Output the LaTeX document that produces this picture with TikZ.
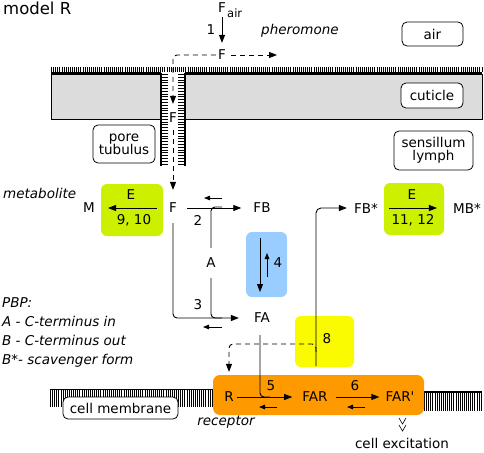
\documentclass[tikz,border=0pt]{standalone}
\usepackage{fontspec}
\setmainfont{DejaVu Sans}[Ligatures=TeXOff]
\usetikzlibrary{arrows.meta}
\definecolor{mygreen}{RGB}{204,240,0}
\definecolor{myblue}{RGB}{153,204,255}
\definecolor{myyellow}{RGB}{250,250,0}
\definecolor{myorange}{RGB}{255,153,0}
\definecolor{cutgray}{RGB}{220,220,220}
\begin{document}
\begin{tikzpicture}[x=1pt,y=-1pt,
  every node/.style={font=\fontsize{13.5}{15}\selectfont, inner sep=2pt},
  itx/.style={font=\fontsize{13.5}{15}\selectfont\itshape},
  ln/.style={line width=0.9pt},
  arr/.style={ln, -{Triangle[length=8pt,width=6pt]}},
  sarr/.style={line width=0.8pt, -{Triangle[length=6pt,width=4.5pt]}},
  dsh/.style={dash pattern=on 5pt off 4pt},
  tag/.style={draw, rounded corners=5pt, fill=white, line width=0.8pt, align=center, inner sep=0pt},
  fbox/.style={rounded corners=6pt},
  hatch/.style={dash pattern=on 0.8pt off 1.3pt}
]
\useasboundingbox (0,0) rectangle (484,452);

% ---- cuticle ----
\draw[fill=cutgray, line width=0.8pt] (51,74) rectangle (161,119);
\draw[fill=cutgray, line width=0.8pt] (185,74) rectangle (482,119);
\draw[line width=5pt, hatch] (51,69.5) -- (482,69.5);
\draw[line width=1.8pt] (51,73) -- (161,73);
\draw[line width=1.8pt] (185,73) -- (482,73);
% pore tubulus walls
\draw[line width=6.5pt, dash pattern=on 0.8pt off 2pt] (164.5,74) -- (164.5,166);
\draw[line width=6.5pt, dash pattern=on 0.8pt off 2pt] (181.5,74) -- (181.5,166);
\draw[line width=1.8pt] (161,73) -- (161,166);
\draw[line width=1.8pt] (185,73) -- (185,166);

% ---- cell membrane ----
\draw[line width=17pt, hatch] (50,398) -- (213,398);
\draw[line width=1.6pt] (50,389.5) -- (213,389.5);
\draw[line width=19pt, hatch] (424,401) -- (482,401);
\draw[line width=1.6pt] (424,392) -- (482,392);

% ---- coloured boxes ----
\fill[mygreen, fbox] (101,184) rectangle (163,236);
\fill[mygreen, fbox] (384,183) rectangle (444,235);
\fill[myblue, fbox] (246,232) rectangle (287,297);
\fill[myyellow, fbox] (295,316) rectangle (354,367);
\fill[myorange, rounded corners=7pt] (213,375) rectangle (424,415);

% ---- labels / tags ----
\node[anchor=base west, font=\fontsize{16.5}{18}\selectfont, inner sep=0pt] (title) at (3,15) {model R};
\node[tag, minimum width=61pt, minimum height=24pt] (air) at (432.5,34) {air};
\node[tag, minimum width=62pt, minimum height=25pt] (cuticle) at (432,95.5) {cuticle};
\node[tag, minimum width=79pt, minimum height=39pt] (lymph) at (433.5,150.5) {sensillum\\[-2pt]lymph};
\node[tag, minimum width=62pt, minimum height=38pt] (pore) at (124,144) {pore\\[-2pt]tubulus};
\node[tag, minimum width=115pt, minimum height=22pt] (membrane) at (120.5,408) {cell membrane};
\node[itx] (pheromone) at (300,31) {pheromone};
\node[itx, anchor=west, inner sep=0pt] (metabolite) at (3,193) {metabolite};
\node[itx, anchor=base west, inner sep=0pt] (pbp1) at (2,307) {PBP:};
\node[itx, anchor=base west, inner sep=0pt] (pbp2) at (2,326) {A - C-terminus in};
\node[itx, anchor=base west, inner sep=0pt] (pbp3) at (2,345) {B - C-terminus out};
\node[itx, anchor=base west, inner sep=0pt] (pbp4) at (2,364) {B*- scavenger form};
\node[itx] (receptor) at (226,422) {receptor};
\node (excit) at (402,443) {cell excitation};

% ---- species ----
\node (Fair) at (222,8) {F};
\node[anchor=west, inner sep=0pt, font=\fontsize{11.5}{13}\selectfont] (airsub) at (227,13) {air};
\node (F0) at (222,55) {F};
\node (Fp) at (173,118) {F};
\node (F1) at (173,208) {F};
\node (M) at (89,208) {M};
\node (FB) at (262,208) {FB};
\node (FA) at (262,318) {FA};
\node (A) at (211,263) {A};
\node (FBs) at (366,208) {FB*};
\node (MBs) at (467,208) {MB*};
\node (R) at (229,397) {R};
\node (FAR) at (315,397) {FAR};
\node (FARp) at (400,397) {FAR'};

% numbers
\node (n1) at (211,30) {1};
\node (n2) at (198,220) {2};
\node (n3) at (198,305) {3};
\node (n4) at (278,263) {4};
\node (n5) at (271,386) {5};
\node (n6) at (355,386) {6};
\node (n8) at (327,339) {8};
\node (E1) at (131,195) {E};
\node (k1) at (134,220) {9, 10};
\node (E2) at (412,195) {E};
\node (k2) at (413,220) {11, 12};

% ---- connectors ----
\draw[arr, shorten <=2pt, shorten >=5pt] (Fair) -- (F0);
\coordinate (c0) at (173,55);
\draw[ln, dsh, -{Triangle[length=8pt,width=6pt]}, rounded corners=4pt, shorten >=7pt] (F0.west) -- (c0) -- (Fp.north);
\coordinate (t0) at (277,55);
\draw[ln, dsh, -{Triangle[length=8pt,width=6pt]}, shorten <=3pt] (F0.east) -- (t0);
\draw[ln, dsh, -{Triangle[length=8pt,width=6pt]}, shorten <=5pt, shorten >=11pt] (Fp.south) -- (F1.north);

% 9,10
\draw[arr, shorten <=10pt, shorten >=11pt] (F1.west) -- (M.east);
% 2
\draw[arr, shorten <=8pt, shorten >=10pt] (F1.east) -- (FB.west);
\coordinate (a2) at (211,207); \coordinate (a2e) at (222,207);
\draw[ln, rounded corners=4pt, shorten <=8pt] (A.north) -- (a2) -- (a2e);
\coordinate (b2s) at (222,198); \coordinate (b2e) at (204,198);
\draw[sarr] (b2s) -- (b2e);
% 3
\draw[arr, rounded corners=4pt, shorten <=8pt, shorten >=13pt] (F1.south) |- (FA.west);
\coordinate (a3) at (211,318); \coordinate (a3e) at (222,318);
\draw[ln, rounded corners=4pt, shorten <=8pt] (A.south) -- (a3) -- (a3e);
\coordinate (b3s) at (222,327); \coordinate (b3e) at (203,327);
\draw[sarr] (b3s) -- (b3e);
% 4
\coordinate (d4s) at (260,238); \coordinate (d4e) at (260,292);
\draw[arr] (d4s) -- (d4e);
\coordinate (u4s) at (267,277); \coordinate (u4e) at (267,253);
\draw[sarr] (u4s) -- (u4e);
% 11,12
\draw[arr, shorten <=9pt, shorten >=14pt] (FBs.east) -- (MBs.west);
% 8
\coordinate (v8) at (316,366);
\draw[arr, rounded corners=5pt, shorten >=5pt] (v8) |- (FBs.west);
\coordinate (d8) at (316,352); \coordinate (d8a) at (316,344); \coordinate (d8b) at (229,344);
\draw[ln, dsh, -{Triangle[length=8pt,width=6pt]}, rounded corners=4pt, shorten >=18pt] (d8) -- (d8a) -- (d8b) -- (R.north);
% 5
\draw[arr, shorten <=1pt, shorten >=8pt] (R.east) -- (FAR.west);
\coordinate (a5) at (260,397); \coordinate (a5e) at (270,397);
\draw[ln, rounded corners=4pt, shorten <=10pt] (FA.south -| a5) -- (a5) -- (a5e);
\coordinate (b5s) at (277,407); \coordinate (b5e) at (259,407);
\draw[sarr] (b5s) -- (b5e);
% 6
\draw[arr, shorten <=6pt, shorten >=4pt] (FAR.east) -- (FARp.west);
\coordinate (b6s) at (365,407); \coordinate (b6e) at (347,407);
\draw[sarr] (b6s) -- (b6e);
% excitation chevrons
\draw[line width=0.6pt] (399,418) -- (402.5,424) -- (406,418);
\draw[line width=0.6pt] (399,425) -- (402.5,431) -- (406,425);
\end{tikzpicture}
\end{document}
